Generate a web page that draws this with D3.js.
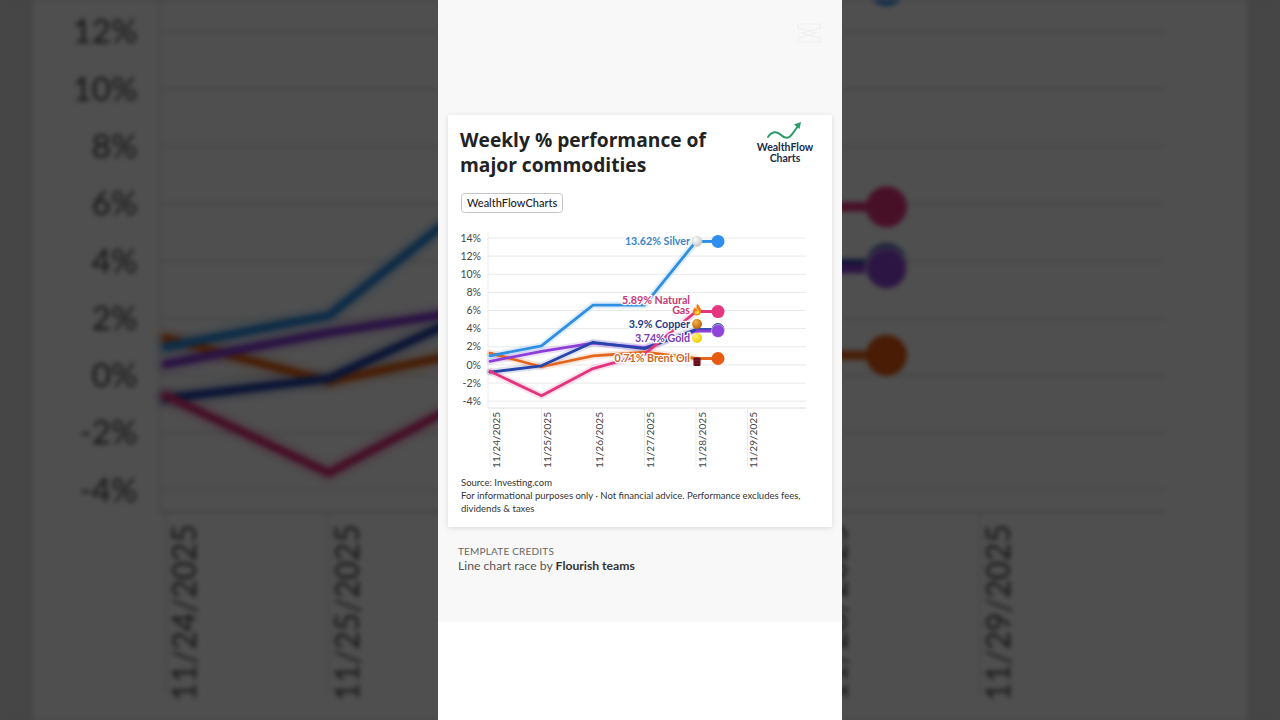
<!DOCTYPE html>
<html><head><meta charset="utf-8">
<script src="https://cdn.jsdelivr.net/npm/d3@7"></script>
<style>
html,body{margin:0;padding:0;width:1280px;height:720px;overflow:hidden;background:#474747;}
#bg{position:absolute;left:0;top:0;filter:blur(2.5px) brightness(0.31);}
#fg{position:absolute;left:0;top:0;}
</style></head><body>
<svg id="bg" width="1280" height="720"></svg>
<svg id="fg" width="1280" height="720"></svg>
<script>
// ---- data ----
const dates = ["11/24/2025","11/25/2025","11/26/2025","11/27/2025","11/28/2025","11/29/2025"];
const yTicks = [-4,-2,0,2,4,6,8,10,12,14];
const seriesNames = ["Silver","Natural Gas","Copper","Gold","Brent Oil"];
const silver     = [1.0, 2.1, 6.6, 6.6, 13.62];
const naturalGas = [-0.7, -3.4, -0.4, 1.2, 5.89];
const copper     = [-0.8, -0.1, 2.5, 1.8, 3.9];
const gold       = [0.4, 1.5, 2.4, 1.9, 3.74];
const brentOil   = [1.3, -0.2, 1.0, 1.4, 0.71];
const seriesValues = [silver, naturalGas, copper, gold, brentOil];
const lineColors  = ["#2f8fe3","#e2357e","#2545aa","#8b3fd8","#e4661c"];
const labelColors = ["#3a86c8","#c53a77","#1f3a86","#7a3bb8","#c9682a"];
const dotColors   = ["#2f8ff0","#e8357f","#2545aa","#8e44d8","#e85a10"];
const icons = ["silver","fire","copper","gold","barrel"];

const FONT = "Lato, 'Noto Sans', sans-serif";
const TFONT = "'Open Sans', Lato, sans-serif";

function drawPanel(svg, bg){
  const g = svg.append("g");
  if(bg) g.attr("transform","translate(640,360) scale(3.16) translate(-640,-360)");
  if(!bg){
    const defs = svg.append("defs");
    const f = defs.append("filter").attr("id","shadow").attr("x","-10%").attr("y","-10%").attr("width","120%").attr("height","120%");
    f.append("feDropShadow").attr("dx",0).attr("dy",1).attr("stdDeviation",2.5).attr("flood-color","#000").attr("flood-opacity",0.12);
    const rg = (id, c0, c1) => {
      const r = defs.append("radialGradient").attr("id",id).attr("cx","35%").attr("cy","30%").attr("r","70%");
      r.append("stop").attr("offset","0%").attr("stop-color",c0);
      r.append("stop").attr("offset","100%").attr("stop-color",c1);
    };
    rg("gSilver","#ffffff","#c8c8c8");
    rg("gCopper","#f7b24a","#b9650f");
    rg("gGold","#fff27a","#f0cc00");
  }
  // panel backgrounds
  g.append("rect").attr("x",438).attr("y",0).attr("width",404).attr("height",622).attr("fill", bg ? "#e2e2e2" : "#f8f8f8");
  if(!bg) g.append("rect").attr("x",438).attr("y",622).attr("width",404).attr("height",98).attr("fill","#ffffff");
  // card
  g.append("rect").attr("x",448).attr("y",115).attr("width",384).attr("height",412).attr("fill","#fff")
    .attr("filter", bg ? null : "url(#shadow)");

  // title
  const title = g.append("text").attr("font-family",TFONT).attr("font-weight",700).attr("font-size",19.2).attr("fill","#222");
  title.append("tspan").attr("x",460).attr("y",147).text("Weekly % performance of");
  title.append("tspan").attr("x",460).attr("y",172).text("major commodities");

  // logo
  const logo = g.append("g");
  logo.append("path").attr("d","M768,137 C772,131 777,131 781,135 C785,139 789,139 793,133 L798,126")
    .attr("fill","none").attr("stroke","#2a9d68").attr("stroke-width",2).attr("stroke-linecap","round");
  logo.append("path").attr("d","M801,122 L794,124.5 L799.5,129 Z").attr("fill","#2a9d68");
  logo.append("text").attr("x",785).attr("y",151).attr("text-anchor","middle").attr("font-family",FONT)
    .attr("font-weight",700).attr("font-size",10.5).attr("fill","#1b2b4b").text("WealthFlow");
  logo.append("text").attr("x",785).attr("y",161.5).attr("text-anchor","middle").attr("font-family",FONT)
    .attr("font-weight",700).attr("font-size",10.5).attr("fill","#1b2b4b").text("Charts");

  // button
  g.append("rect").attr("x",461.5).attr("y",193.5).attr("width",101).attr("height",19).attr("rx",3)
    .attr("fill","#fff").attr("stroke","#c4c4c4");
  g.append("text").attr("x",467).attr("y",207).attr("font-family",FONT).attr("font-size",11)
    .attr("font-weight",500).attr("fill","#222").text("WealthFlowCharts");

  // chart
  const x = d3.scalePoint().domain(dates).range([490, 747.5]);
  const y = d3.scaleLinear().domain([-4.75, 14]).range([408, 238]);
  const gx1 = 488, gx2 = 806;

  g.append("g").selectAll("line").data(yTicks).join("line")
    .attr("x1",gx1).attr("x2",gx2).attr("y1",d=>y(d)).attr("y2",d=>y(d))
    .attr("stroke","#e9e9e9").attr("stroke-width",1);
  g.append("line").attr("x1",gx1).attr("x2",gx1).attr("y1",232).attr("y2",408).attr("stroke","#ececec");
  g.append("line").attr("x1",gx1).attr("x2",gx2).attr("y1",408).attr("y2",408).attr("stroke","#dedede");
  g.append("g").selectAll("line").data(dates).join("line")
    .attr("x1",d=>x(d)).attr("x2",d=>x(d)).attr("y1",408).attr("y2",466)
    .attr("stroke","#ececec");

  // y labels
  g.append("g").selectAll("text").data(yTicks).join("text")
    .attr("x",481).attr("y",d=>y(d)).attr("dy","0.35em").attr("text-anchor","end")
    .attr("font-family",FONT).attr("font-size",10.5).attr("fill","#444").text(d=>d+"%");
  // x labels
  g.append("g").selectAll("text").data(dates).join("text")
    .attr("transform",d=>`translate(${x(d)+6},412) rotate(-90)`).attr("dy","0.35em").attr("text-anchor","end")
    .attr("font-family",FONT).attr("font-size",10.1).attr("fill","#444").text(d=>d);

  const line = d3.line().x((d,i)=>x(dates[i])).y(d=>y(d));
  const order = [4,3,2,1,0];
  const lg = g.append("g").attr("fill","none").attr("stroke-linejoin","round").attr("stroke-linecap","round");
  order.forEach(k=>{
    lg.append("path").attr("d",line(seriesValues[k])).attr("stroke",lineColors[k]).attr("stroke-width",7).attr("stroke-opacity",0.15);
  });
  order.forEach(k=>{
    lg.append("path").attr("d",line(seriesValues[k])).attr("stroke",lineColors[k]).attr("stroke-width",2.8);
  });

  const xEnd = x(dates[4]), xDot = 718;
  // connectors + dots
  const dotOrder = [4,2,3,1,0];
  dotOrder.forEach(k=>{
    const v = seriesValues[k][4];
    g.append("line").attr("x1",xEnd).attr("x2",xDot).attr("y1",y(v)).attr("y2",y(v))
      .attr("stroke",lineColors[k]).attr("stroke-width",3);
  });
  dotOrder.forEach(k=>{
    const v = seriesValues[k][4];
    g.append("circle").attr("cx",xDot).attr("cy",y(v)).attr("r",6.5).attr("fill",dotColors[k])
      .attr("stroke", k===3 ? "#fff" : "none").attr("stroke-width",0.5);
  });

  // labels with collision avoidance
  const nodes = seriesNames.map((n,k)=>({k, y: y(seriesValues[k][4])})).sort((a,b)=>a.y-b.y);
  const gap = 14;
  for(let it=0; it<60; it++){
    for(let i=1;i<nodes.length;i++){
      const d = nodes[i].y - nodes[i-1].y;
      if(d < gap){ const s=(gap-d)/2; nodes[i-1].y -= s; nodes[i].y += s; }
    }
  }
  nodes.forEach(nd=>{
    const k = nd.k;
    const txt = `${seriesValues[k][4]}% ${seriesNames[k]}`;
    const words = txt.split(" ");
    let lines = [txt];
    if(txt.length > 15){ lines = [words.slice(0,-1).join(" "), words[words.length-1]]; }
    const t = g.append("text").attr("text-anchor","end").attr("font-family",FONT).attr("font-weight",700)
      .attr("font-size",10.7).attr("fill",labelColors[k])
      .attr("stroke","#fff").attr("stroke-width",2.5).attr("paint-order","stroke").attr("stroke-linejoin","round");
    lines.forEach((l,i)=>{
      t.append("tspan").attr("x",690).attr("y",nd.y - (lines.length-1-i)*9.5).attr("dy","0.35em").text(l);
    });
    drawIcon(g, icons[k], xEnd+1, nd.y, bg);
  });

  // source / notes
  const notes = ["Source: Investing.com","For informational purposes only · Not financial advice. Performance excludes fees,","dividends & taxes"];
  g.append("g").selectAll("text").data(notes).join("text")
    .attr("x",461).attr("y",(d,i)=>486+i*13).attr("font-family",FONT).attr("font-size",9.5).attr("fill","#333").text(d=>d);

  // credits
  g.append("text").attr("x",458).attr("y",554.5).attr("font-family",FONT).attr("font-size",10).attr("fill","#666")
    .attr("letter-spacing",0.2).text("TEMPLATE CREDITS");
  const cr = g.append("text").attr("x",458).attr("y",570).attr("font-family",FONT).attr("font-size",12.2).attr("fill","#555");
  cr.append("tspan").text("Line chart race by ");
  cr.append("tspan").attr("font-weight",700).attr("fill","#333").text("Flourish teams");

  if(!bg){
    // faint editor watermark
    g.append("path").attr("d","M798,24 L820,24 L820,28 L802,33 L820,38 L820,42 L798,42 L798,38 L816,33 L798,28 Z")
      .attr("fill","none").attr("stroke","#efefef").attr("stroke-width",1.2);
  }
}

function drawIcon(g, type, cx, cy, bg){
  if(type==="silver"){
    g.append("circle").attr("cx",cx).attr("cy",cy).attr("r",5).attr("fill", bg?"#ddd":"url(#gSilver)").attr("stroke","#cfcfcf").attr("stroke-width",0.6);
  } else if(type==="copper"){
    g.append("circle").attr("cx",cx).attr("cy",cy).attr("r",5).attr("fill", bg?"#d9861e":"url(#gCopper)");
  } else if(type==="gold"){
    g.append("circle").attr("cx",cx).attr("cy",cy).attr("r",5).attr("fill", bg?"#f7dc20":"url(#gGold)");
  } else if(type==="fire"){
    g.append("path").attr("transform",`translate(${cx},${cy})`)
      .attr("d","M0,-6.5 C2.5,-3.5 4.5,-1.5 4,1.8 C3.6,4.6 1.8,5.5 0,5.5 C-1.8,5.5 -3.8,4.6 -4,1.8 C-4.2,-0.6 -2.8,-2 -1.8,-3 C-1.6,-1.6 -1,-0.8 -0.4,-0.6 C-0.6,-2.8 -0.6,-4.6 0,-6.5 Z")
      .attr("fill","#f47a12");
    g.append("path").attr("transform",`translate(${cx},${cy})`)
      .attr("d","M0.3,-1.5 C1.8,0.2 2.6,1.6 2.2,3.2 C1.9,4.6 -1.9,4.6 -2.2,3.2 C-2.4,2 -1.4,1.2 -0.8,0.6 C-0.4,1.4 0.2,1.6 0.4,1.4 C0.2,0.4 0,-0.6 0.3,-1.5 Z")
      .attr("fill","#ffd23a");
  } else if(type==="barrel"){
    g.append("rect").attr("x",cx-3.5).attr("y",cy-1).attr("width",7).attr("height",8.5).attr("rx",1).attr("fill","#5e1020");
    g.append("line").attr("x1",cx-3.5).attr("x2",cx+3.5).attr("y1",cy+1.8).attr("y2",cy+1.8).attr("stroke","#a02030").attr("stroke-width",0.8);
    g.append("line").attr("x1",cx-3.5).attr("x2",cx+3.5).attr("y1",cy+4.8).attr("y2",cy+4.8).attr("stroke","#a02030").attr("stroke-width",0.8);
  }
}

drawPanel(d3.select("#bg"), true);
drawPanel(d3.select("#fg"), false);
</script>
</body></html>
